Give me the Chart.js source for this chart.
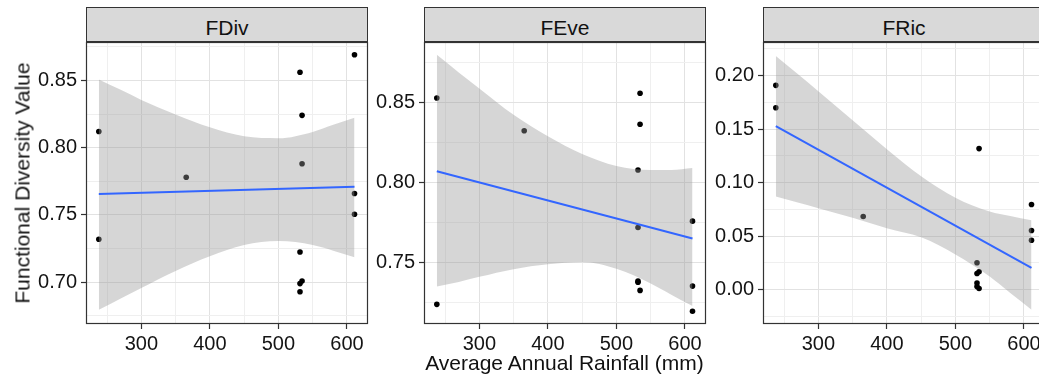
<!DOCTYPE html>
<html>
<head>
<meta charset="utf-8">
<script src="https://cdn.jsdelivr.net/npm/chart.js@4.4.1/dist/chart.umd.min.js"></script>
<style>
  html, body { margin: 0; padding: 0; background: #fff; overflow: hidden; }
  #wrap { position: relative; width: 1100px; height: 381px; font-family: "Liberation Sans", Arial, sans-serif; color: #111; }
  .strip { position: absolute; top: 7px; width: 282px; height: 35px; box-sizing: border-box; background: #d9d9d9; border: 1px solid #333; text-align: center; font-size: 21px; line-height: 33px; }
  .strip span { position: relative; top: 2.5px; }
  canvas { position: absolute; top: 32px; }
  #ytitle { position: absolute; left: 21.5px; top: 183px; font-size: 21px; line-height: 21px; white-space: nowrap; transform: translate(-50%, -50%) rotate(-90deg); }
  #xtitle { position: absolute; left: 564.5px; top: 352px; font-size: 21px; line-height: 21px; white-space: nowrap; transform: translateX(-50%); }
</style>
</head>
<body>
<div id="wrap">
  <div class="strip" style="left:86px"><span>FDiv</span></div>
  <div class="strip" style="left:424px"><span>FEve</span></div>
  <div class="strip" style="left:763px"><span>FRic</span></div>
  <canvas id="cFDiv" width="382" height="332" style="left:6px"></canvas>
  <canvas id="cFEve" width="382" height="332" style="left:344px"></canvas>
  <canvas id="cFRic" width="382" height="332" style="left:683px"></canvas>
  <div id="ytitle">Functional Diversity Value</div>
  <div id="xtitle">Average Annual Rainfall (mm)</div>
</div>
<script>
// sites (rainfall, mm) shared by the three panels
const rainfall = [238, 238, 365.5, 531.5, 531.5, 531.5, 531.5, 534.5, 534.5, 534.5, 611, 611, 611];
const fdivValues = [0.812, 0.732, 0.778, 0.856, 0.7225, 0.699, 0.693, 0.824, 0.788, 0.701, 0.869, 0.766, 0.7505];
const feveValues = [0.853, 0.724, 0.8325, 0.808, 0.772, 0.7385, 0.7378, 0.856, 0.8366, 0.7327, 0.776, 0.7354, 0.7197];
const fricValues = [0.191, 0.170, 0.0684, 0.0252, 0.0152, 0.0062, 0.0031, 0.1319, 0.0168, 0.0012, 0.0796, 0.0554, 0.0463];

// fitted line and confidence band
const fitX = [238, 611];
const fdivFit = [0.7655, 0.7709];
const feveFit = [0.8072, 0.7652];
const fricFit = [0.153, 0.0205];

const bandX = [238, 270, 300, 350, 400, 450, 500, 550, 580, 611];
const fdivUpper = [0.8507, 0.843, 0.8355, 0.8247, 0.8151, 0.8084, 0.807, 0.8117, 0.817, 0.8222];
const fdivLower = [0.6796, 0.688, 0.6958, 0.7084, 0.7193, 0.7276, 0.7306, 0.7277, 0.7235, 0.7186];
const feveUpper = [0.880, 0.869, 0.859, 0.8425, 0.829, 0.818, 0.8105, 0.808, 0.808, 0.8093];
const feveLower = [0.7352, 0.738, 0.7412, 0.746, 0.749, 0.7504, 0.7462, 0.737, 0.730, 0.7229];
const fricUpper = [0.2184, 0.2015, 0.1854, 0.1583, 0.1313, 0.106, 0.086, 0.0731, 0.069, 0.065];
const fricLower = [0.0871, 0.0815, 0.0762, 0.0673, 0.0575, 0.049, 0.033, 0.0124, -0.003, -0.0186];

// axes
const xRange = [219.3, 630.7];
const xMajor = [300, 400, 500, 600];
const xMinor = [250, 350, 450, 550];
const fdivRange = [0.669, 0.8785];
const fdivMajor = [0.70, 0.75, 0.80, 0.85];
const fdivMinor = [0.675, 0.725, 0.775, 0.825, 0.875];
const feveRange = [0.7117, 0.888];
const feveMajor = [0.75, 0.80, 0.85];
const feveMinor = [0.725, 0.775, 0.825, 0.875];
const fricRange = [-0.032, 0.2315];
const fricMajor = [0.00, 0.05, 0.10, 0.15, 0.20];
const fricMinor = [-0.025, 0.025, 0.075, 0.125, 0.175, 0.225];

Chart.defaults.font.family = '"Liberation Sans", Arial, sans-serif';
Chart.defaults.font.size = 20;
Chart.defaults.color = '#141414';

const panelBorder = {
    id: 'panelBorder',
    afterDraw(chart) {
        const a = chart.chartArea, ctx = chart.ctx;
        ctx.save();
        ctx.strokeStyle = '#333';
        ctx.lineWidth = 1.2;
        ctx.strokeRect(a.left + 0.5, a.top + 0.5, a.right - a.left - 1, a.bottom - a.top - 1);
        ctx.restore();
    }
};

function toPoints(xs, ys) {
    return xs.map((x, i) => ({ x: x, y: ys[i] }));
}

function axis(range, major, minor, fmt, isX) {
    const majors = new Set(major);
    return {
        type: 'linear',
        min: range[0],
        max: range[1],
        afterBuildTicks: s => {
            s.ticks = major.concat(minor).sort((a, b) => a - b).map(v => ({ value: v }));
        },
        afterFit: s => {
            if (isX) s.height = 40; else s.width = 80;
            s.paddingTop = s.paddingBottom = s.paddingLeft = s.paddingRight = 0;
        },
        border: { display: false },
        grid: {
            color: c => majors.has(c.tick.value) ? '#e2e2e2' : '#efefef',
            lineWidth: 1,
            tickColor: c => majors.has(c.tick.value) ? '#333' : 'rgba(0,0,0,0)',
            tickLength: 5,
            tickWidth: 1.2
        },
        ticks: {
            autoSkip: false,
            maxRotation: 0,
            padding: isX ? 3 : 4,
            callback: v => majors.has(v) ? fmt(v) : ''
        }
    };
}

function makePanel(id, values, fit, upper, lower, yRange, yMajor, yMinor) {
    new Chart(document.getElementById(id), {
        type: 'scatter',
        data: {
            datasets: [
                { data: toPoints(fitX, fit), showLine: true, borderColor: '#3366ff', borderWidth: 2, pointRadius: 0, order: 0 },
                { data: toPoints(bandX, upper), showLine: true, borderColor: 'rgba(0,0,0,0)', borderWidth: 0, pointRadius: 0,
                  cubicInterpolationMode: 'monotone', fill: '+1', backgroundColor: 'rgba(153,153,153,0.4)', order: 1 },
                { data: toPoints(bandX, lower), showLine: true, borderColor: 'rgba(0,0,0,0)', borderWidth: 0, pointRadius: 0,
                  cubicInterpolationMode: 'monotone', order: 2 },
                { data: toPoints(rainfall, values), pointRadius: 2.8, backgroundColor: '#000', borderWidth: 0, order: 3 }
            ]
        },
        options: {
            responsive: false,
            animation: false,
            layout: { padding: { left: 0, top: 10, right: 20, bottom: 0 } },
            plugins: { legend: { display: false }, tooltip: { enabled: false } },
            scales: {
                x: axis(xRange, xMajor, xMinor, v => String(v), true),
                y: axis(yRange, yMajor, yMinor, v => v.toFixed(2), false)
            }
        },
        plugins: [panelBorder]
    });
}

makePanel('cFDiv', fdivValues, fdivFit, fdivUpper, fdivLower, fdivRange, fdivMajor, fdivMinor);
makePanel('cFEve', feveValues, feveFit, feveUpper, feveLower, feveRange, feveMajor, feveMinor);
makePanel('cFRic', fricValues, fricFit, fricUpper, fricLower, fricRange, fricMajor, fricMinor);
</script>
</body>
</html>
